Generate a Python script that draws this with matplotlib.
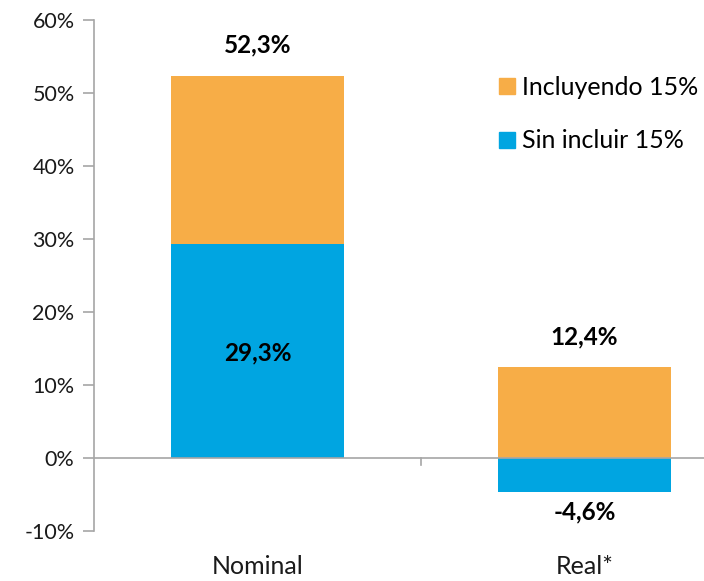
import matplotlib.pyplot as plt
from matplotlib.patches import Patch

plt.rcParams['font.family'] = ['Lato', 'DejaVu Sans']

categorias = ['Nominal', 'Real*']
sin_incluir = [29.3, -4.6]
total = [52.3, 12.4]
etiquetas_total = ['52,3%', '12,4%']
etiquetas_sin = ['29,3%', '-4,6%']
yticks = [-10, 0, 10, 20, 30, 40, 50, 60]

naranja = '#F7AD47'
azul = '#00A5E1'
gris = '#A6A6A6'

# parte naranja: se apila sobre lo positivo
base_naranja = [max(v, 0) for v in sin_incluir]
alto_naranja = [t - b for t, b in zip(total, base_naranja)]

fig = plt.figure(figsize=(7.04, 5.81), dpi=100)
ax = fig.add_axes([94/704, 1-531/581, 654/704, 511/581])

x = range(len(categorias))
ax.bar(x, sin_incluir, width=0.53, color=azul, zorder=2)
ax.bar(x, alto_naranja, bottom=base_naranja, width=0.53, color=naranja, zorder=2)

ax.set_xlim(-0.5, 1.5)
ax.set_ylim(-10, 60)
ax.set_yticks(yticks)
ax.set_yticklabels([f'{v}%' for v in yticks], fontsize=15.5, color='#1a1a1a')

for s in ['top', 'right', 'bottom']:
    ax.spines[s].set_visible(False)
ax.spines['left'].set_color(gris)
ax.spines['left'].set_linewidth(1.2)
ax.tick_params(axis='y', length=8, color=gris, width=1.2, pad=6)
ax.axhline(0, color=gris, lw=1.2, zorder=3)
ax.plot([0.5, 0.5], [0, -0.9], color=gris, lw=1.2, clip_on=False)
ax.set_xticks([])

for i, c in enumerate(categorias):
    ax.text(i, -14.9, c, ha='center', va='center', fontsize=18, color='#1a1a1a', clip_on=False)

# etiquetas
ax.text(0, total[0] + 4.3, etiquetas_total[0], ha='center', va='center', fontsize=17.5, fontweight='bold')
ax.text(0, sin_incluir[0] - 14.9, etiquetas_sin[0], ha='center', va='center', fontsize=17.5, fontweight='bold')
ax.text(1, total[1] + 4.2, etiquetas_total[1], ha='center', va='center', fontsize=17.5, fontweight='bold')
ax.text(1, sin_incluir[1] - 2.8, etiquetas_sin[1], ha='center', va='center', fontsize=17.5, fontweight='bold')

handles = [Patch(color=naranja, label='Incluyendo 15%'), Patch(color=azul, label='Sin incluir 15%')]
fig.legend(handles=handles, loc='upper left', bbox_to_anchor=(499/704, 1-76/581), frameon=False,
           borderpad=0, borderaxespad=0, fontsize=18, handlelength=0.62, handleheight=0.62,
           handletextpad=0.3, labelspacing=1.22)

fig.savefig('out.png', dpi=100)
